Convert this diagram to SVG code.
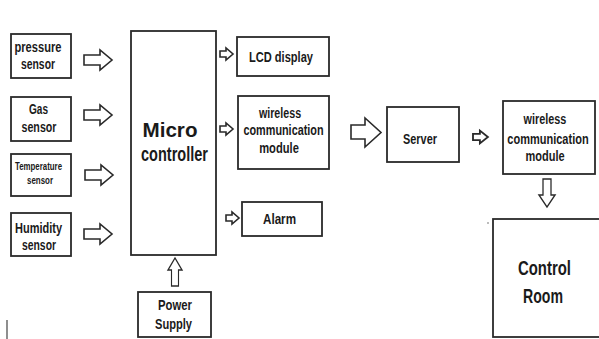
<svg xmlns="http://www.w3.org/2000/svg" width="599" height="339" viewBox="0 0 599 339">
<style>
.box{fill:#fff;stroke:#2a2a2a;stroke-width:1.8}
.arr{fill:#fff;stroke:#2a2a2a;stroke-width:1.6;stroke-linejoin:miter}
text{font-family:"Liberation Sans",Arial,sans-serif;font-weight:bold;fill:#1a1a1a;text-anchor:middle}
.s{font-size:15px}
.xs{font-size:10.5px}
.m{font-size:15.5px}
.l{font-size:21px}
</style>
<defs>
<path id="bigR" d="M0,-5 H16 V-10 L28,0 L16,10 V5 H0 Z"/>
<path id="smR" d="M0,-3 H6 V-6 L13,0 L6,6 V3 H0 Z"/>
</defs>
<rect width="599" height="339" fill="#fff"/>
<g id="pressure-sensor"><rect class="box" x="11" y="34" width="60" height="44"/><text class="s" x="38" y="52" textLength="47" lengthAdjust="spacingAndGlyphs">pressure</text><text class="s" x="38" y="69" textLength="34" lengthAdjust="spacingAndGlyphs">sensor</text></g>
<g id="gas-sensor"><rect class="box" x="11" y="97" width="60" height="44"/><text class="s" x="38.5" y="114" textLength="19" lengthAdjust="spacingAndGlyphs">Gas</text><text class="s" x="39" y="132" textLength="35" lengthAdjust="spacingAndGlyphs">sensor</text></g>
<g id="temperature-sensor"><rect class="box" x="11" y="154" width="60" height="42"/><text class="xs" x="38.5" y="170" textLength="47" lengthAdjust="spacingAndGlyphs">Temperature</text><text class="xs" x="40" y="184" textLength="26" lengthAdjust="spacingAndGlyphs">sensor</text></g>
<g id="humidity-sensor"><rect class="box" x="11" y="213" width="60" height="43"/><text class="s" x="38.5" y="233" textLength="47" lengthAdjust="spacingAndGlyphs">Humidity</text><text class="s" x="39" y="250" textLength="34" lengthAdjust="spacingAndGlyphs">sensor</text></g>
<g id="microcontroller"><rect class="box" x="131" y="31" width="85" height="224"/><text class="l" x="170" y="137" textLength="55" lengthAdjust="spacingAndGlyphs">Micro</text><text class="l" x="174.5" y="161" textLength="67" lengthAdjust="spacingAndGlyphs">controller</text></g>
<g id="power-supply"><rect class="box" x="138" y="292" width="73" height="45"/><text class="s" x="175" y="310" textLength="34" lengthAdjust="spacingAndGlyphs">Power</text><text class="s" x="173.5" y="329" textLength="37" lengthAdjust="spacingAndGlyphs">Supply</text></g>
<g id="lcd-display"><rect class="box" x="237" y="37" width="92" height="39"/><text class="s" x="281" y="62" textLength="64" lengthAdjust="spacingAndGlyphs">LCD display</text></g>
<g id="wireless-module-1"><rect class="box" x="238" y="96" width="91" height="73"/><text class="m" transform="translate(280,118) scale(0.69,1)">wireless</text><text class="m" transform="translate(283.5,135) scale(0.7,1)">communication</text><text class="m" transform="translate(279,153) scale(0.72,1)">module</text></g>
<g id="alarm"><rect class="box" x="242" y="202" width="80" height="34"/><text class="s" x="279.5" y="224" textLength="33" lengthAdjust="spacingAndGlyphs">Alarm</text></g>
<g id="server"><rect class="box" x="387" y="107" width="72" height="55"/><text class="s" x="420" y="144" textLength="34" lengthAdjust="spacingAndGlyphs">Server</text></g>
<g id="wireless-module-2"><rect class="box" x="503" y="101" width="92" height="73"/><text class="m" transform="translate(545,124) scale(0.7,1)">wireless</text><text class="m" transform="translate(548,144) scale(0.71,1)">communication</text><text class="m" transform="translate(545,161) scale(0.71,1)">module</text></g>
<g id="control-room"><rect class="box" x="493" y="219" width="110" height="118"/><text class="l" x="544.5" y="275" textLength="53" lengthAdjust="spacingAndGlyphs">Control</text><text class="l" x="543" y="303" textLength="40" lengthAdjust="spacingAndGlyphs">Room</text></g>
<g id="connectors">
<use href="#bigR" class="arr" transform="translate(84,60)"/>
<use href="#bigR" class="arr" transform="translate(84,115)"/>
<use href="#bigR" class="arr" transform="translate(85,175)"/>
<use href="#bigR" class="arr" transform="translate(84,234)"/>
<use href="#bigR" class="arr" transform="translate(175,286) rotate(-90) scale(1,0.7)"/>
<use href="#smR" class="arr" transform="translate(220,54)"/>
<use href="#smR" class="arr" transform="translate(220,129)"/>
<use href="#smR" class="arr" transform="translate(226,218)"/>
<path class="arr" d="M351,125 H365 V118 L381,132.5 L365,147 V139 H351 Z"/>
<use href="#smR" class="arr" transform="translate(473,137) scale(1.15,1.05)"/>
<use href="#bigR" class="arr" transform="translate(547,179) rotate(90) scale(1,0.8)"/>
</g>
<line x1="7" y1="320" x2="7" y2="339" stroke="#444" stroke-width="1.2"/>
<circle cx="488" cy="223" r="0.8" fill="#666"/>
</svg>
